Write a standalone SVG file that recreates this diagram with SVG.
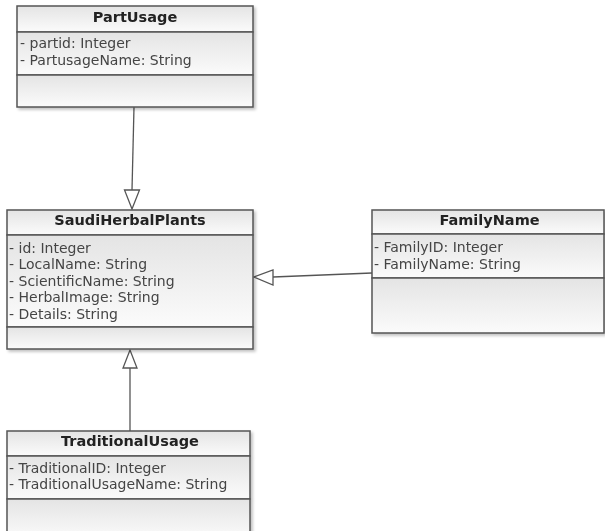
<svg xmlns="http://www.w3.org/2000/svg" width="605" height="531" viewBox="0 0 605 531">
<defs>
<linearGradient id="g" x1="0" y1="0" x2="0" y2="1">
<stop offset="0" stop-color="#e4e4e4"/>
<stop offset="1" stop-color="#fbfbfb"/>
</linearGradient>
<filter id="sh" x="-5%" y="-5%" width="115%" height="115%">
<feGaussianBlur in="SourceAlpha" stdDeviation="1.5"/>
<feOffset dx="2" dy="2"/>
<feComponentTransfer><feFuncA type="linear" slope="0.25"/></feComponentTransfer>
<feMerge><feMergeNode/><feMergeNode in="SourceGraphic"/></feMerge>
</filter>
</defs>
<style>
.sec{fill:url(#g);stroke:#555;stroke-width:1.5}
.t{font-family:"DejaVu Sans",Verdana,sans-serif;font-weight:bold;font-size:14.5px;fill:#222;text-anchor:middle}
.a{font-family:"DejaVu Sans",Verdana,sans-serif;font-size:14px;fill:#444}
.c{stroke:#555;stroke-width:1.3;fill:none}
.h{stroke:#555;stroke-width:1.3;fill:#fff}
</style>
<rect width="605" height="531" fill="#fff"/>
<g id="connectors">
<line class="c" x1="134" y1="107" x2="132" y2="190"/>
<polygon class="h" points="124.5,190 139.5,190 132,209"/>
<line class="c" x1="130" y1="431" x2="130" y2="368"/>
<polygon class="h" points="123,368 137,368 130,350"/>
<line class="c" x1="372" y1="273" x2="273" y2="277"/>
<polygon class="h" points="273,270 273,285 254,277"/>
</g>
<g id="PartUsage" filter="url(#sh)">
<rect class="sec" x="17" y="6" width="236" height="26"/>
<rect class="sec" x="17" y="32" width="236" height="43"/>
<rect class="sec" x="17" y="75" width="236" height="32"/>
<text class="t" x="135" y="22">PartUsage</text>
<text class="a" x="20" y="48">- partid: Integer</text>
<text class="a" x="20" y="65">- PartusageName: String</text>
</g>
<g id="SaudiHerbalPlants" filter="url(#sh)">
<rect class="sec" x="7" y="210" width="246" height="25"/>
<rect class="sec" x="7" y="235" width="246" height="92"/>
<rect class="sec" x="7" y="327" width="246" height="22"/>
<text class="t" x="130" y="225">SaudiHerbalPlants</text>
<text class="a" x="9" y="252.5">- id: Integer</text>
<text class="a" x="9" y="269">- LocalName: String</text>
<text class="a" x="9" y="285.5">- ScientificName: String</text>
<text class="a" x="9" y="302">- HerbalImage: String</text>
<text class="a" x="9" y="318.5">- Details: String</text>
</g>
<g id="FamilyName" filter="url(#sh)">
<rect class="sec" x="372" y="210" width="232" height="24"/>
<rect class="sec" x="372" y="234" width="232" height="44"/>
<rect class="sec" x="372" y="278" width="232" height="55"/>
<text class="t" x="489.5" y="225">FamilyName</text>
<text class="a" x="374" y="252">- FamilyID: Integer</text>
<text class="a" x="374" y="269">- FamilyName: String</text>
</g>
<g id="TraditionalUsage" filter="url(#sh)">
<rect class="sec" x="7" y="431" width="243" height="25"/>
<rect class="sec" x="7" y="456" width="243" height="43"/>
<rect class="sec" x="7" y="499" width="243" height="40"/>
<text class="t" x="130" y="446">TraditionalUsage</text>
<text class="a" x="9" y="472.5">- TraditionalID: Integer</text>
<text class="a" x="9" y="489">- TraditionalUsageName: String</text>
</g>
</svg>
